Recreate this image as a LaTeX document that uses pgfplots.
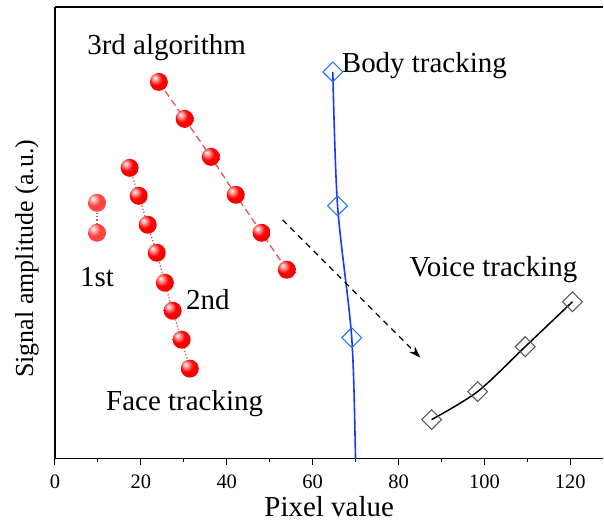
\documentclass[border=0pt]{standalone}
\usepackage{pgfplots}
\pgfplotsset{compat=1.18}
\usepackage{fontspec}
\setmainfont{Liberation Serif}
\usetikzlibrary{arrows.meta}
\definecolor{linered}{RGB}{240,80,80}
\definecolor{bodyblue}{RGB}{25,55,255}
\definecolor{bodymark}{RGB}{40,120,240}
\pgfdeclareradialshading{myball}{\pgfpoint{-12bp}{12bp}}{color(0bp)=(white); color(8bp)=(red!45!white); color(18bp)=(red); color(45bp)=(red!92!black); color(70bp)=(red!70!black)}
\pgfdeclareradialshading{myballlight}{\pgfpoint{-12bp}{12bp}}{color(0bp)=(white); color(8bp)=(red!35!white); color(18bp)=(red!75!white); color(45bp)=(red!70!white); color(70bp)=(red!60!black)}
\pgfdeclareplotmark{myball}{\pgfpathcircle{\pgfpointorigin}{\pgfplotmarksize}\pgfshadepath{myball}{0}\pgfusepath{}}
\pgfdeclareplotmark{myballlight}{\pgfpathcircle{\pgfpointorigin}{\pgfplotmarksize}\pgfshadepath{myballlight}{0}\pgfusepath{}}
\begin{document}
\begin{tikzpicture}
\begin{axis}[
  scale only axis,
  width=549pt, height=452pt,
  xmin=0, xmax=127.7, ymin=0, ymax=452,
  axis x line*=bottom, axis y line*=left,
  axis line style={line width=1.2pt, -},
  xtick={0,20,...,120}, minor x tick num=1,
  ytick=\empty,
  tick align=outside,
  major tick length=6pt, minor tick length=3.5pt,
  tick style={line width=1.1pt, black},
  tick label style={font=\fontsize{20.5}{22}\selectfont},
  xticklabel style={yshift=-7pt},
  /pgf/number format/assume math mode=true,
  xlabel={Pixel value},
  ylabel={Signal amplitude (a.u.)},
  xlabel style={font=\fontsize{29}{32}\selectfont, at={(axis description cs:0.5,0)}, anchor=center, yshift=-48pt},
  ylabel style={font=\fontsize{26}{28}\selectfont, at={(axis description cs:0,0.5)}, anchor=center, yshift=28pt, xshift=-26pt},
  clip=true,
]
\coordinate (sw) at (rel axis cs:0,0);
\coordinate (ne) at (rel axis cs:1,1);
% 1st
\addplot[linered, dotted, line width=1.3pt, mark=myballlight, mark size=9pt, mark options={solid}]
  coordinates {(9.8,256) (9.8,226)};
% 2nd
\addplot[linered, dotted, line width=1.3pt, mark=myball, mark size=9pt, mark options={solid}]
  coordinates {(17.4,291) (19.5,263) (21.6,234) (23.7,206) (25.6,176) (27.4,148) (29.5,119) (31.4,90)};
% 3rd
\addplot[linered, dash pattern=on 7pt off 4pt, line width=1.3pt, mark=myball, mark size=9pt, mark options={solid}]
  coordinates {(24.2,377) (30.2,340) (36.3,302) (42.1,264) (48.1,226) (54.0,189)};
% Body tracking line
\addplot[bodyblue, line width=1.6pt, smooth, no marks]
  coordinates {(64.7,387) (65.8,253) (69.1,121) (70.0,0) (70.2,-20)};
\addplot[only marks, mark=square, mark size=7pt, mark options={rotate=45, draw=bodymark, fill=white, line width=1.1pt}]
  coordinates {(64.7,387) (65.8,253) (69.1,121)};
% Voice tracking
\addplot[black, line width=1.5pt, smooth, mark=square, mark size=7pt, mark options={rotate=45, draw=black!65, fill=white, line width=1.1pt}]
  coordinates {(87.7,39) (98.4,67) (109.5,112) (120.5,157)};
% arrow
\draw[dash pattern=on 6pt off 5pt, line width=1.2pt, -{Stealth[length=12pt,width=8pt]}] (axis cs:53.0,239) -- (axis cs:85.1,101);
% texts
\node[font=\fontsize{29}{31}\selectfont] at (axis cs:26.0,411) {3rd algorithm};
\node[font=\fontsize{29}{31}\selectfont, anchor=west] at (axis cs:66.0,393) {Body tracking};
\node[font=\fontsize{29}{31}\selectfont] at (axis cs:9.8,182) {1st};
\node[font=\fontsize{29}{31}\selectfont] at (axis cs:35.6,159) {2nd};
\node[font=\fontsize{29}{31}\selectfont] at (axis cs:30.2,55) {Face tracking};
\node[font=\fontsize{29}{31}\selectfont] at (axis cs:102.1,189) {Voice tracking};
\end{axis}
\draw[line width=1.2pt] (sw |- ne) -- (ne);
\path ([xshift=-55pt,yshift=-64pt]sw) rectangle ([yshift=7pt]ne);
\end{tikzpicture}
\end{document}
